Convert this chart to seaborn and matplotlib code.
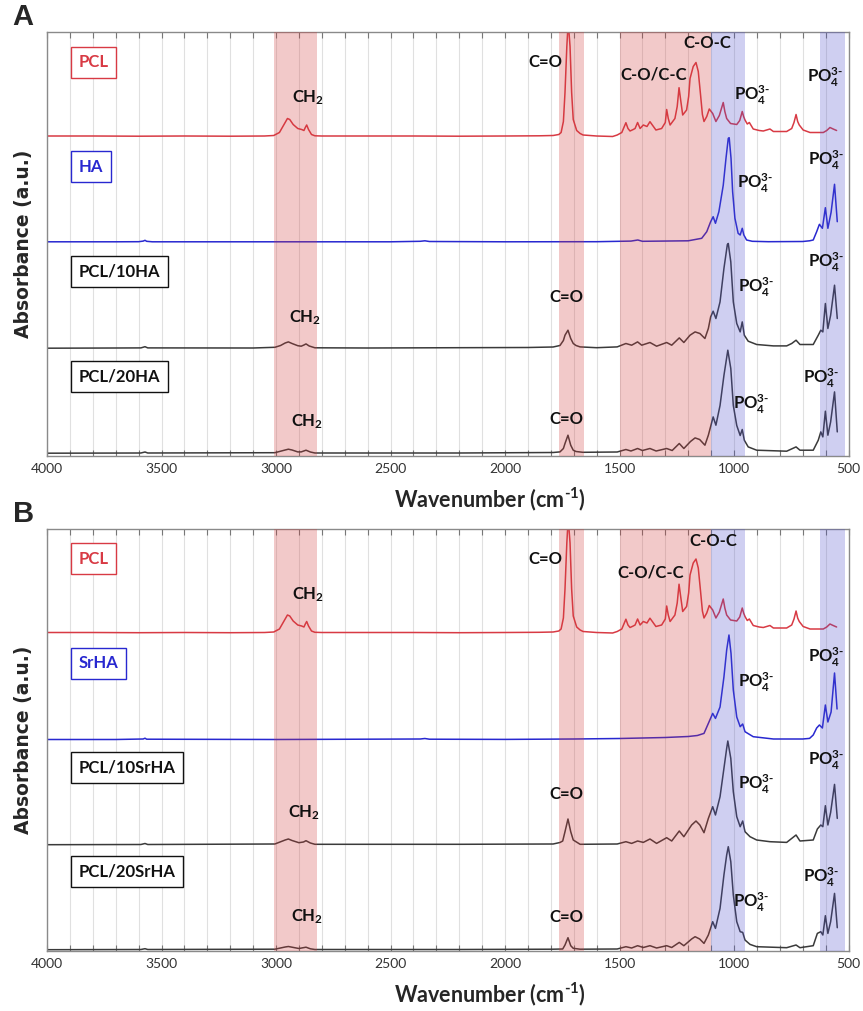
import numpy as np
import pandas as pd
import seaborn as sns
import matplotlib.pyplot as plt

# FTIR spectra: (wavenumber cm-1, height above the trace's own baseline, a.u.)
PCL = [(4000, 0.5), (3800, 0.5), (3600, 0.3), (3400, 0.5), (3200, 0.3), (3050, 0.5), (3010, 1),
       (2985, 4), (2965, 12), (2950, 18), (2940, 17), (2925, 12), (2905, 8), (2888, 7), (2878, 6),
       (2872, 9), (2866, 11.5), (2858, 7), (2845, 2), (2830, 0.7), (2800, 0.5), (2600, 0.5),
       (2400, 0.5), (2200, 0.3), (2000, 0.5), (1850, 0.7), (1790, 1), (1765, 2), (1755, 4),
       (1745, 15), (1738, 44), (1730, 90), (1724, 115), (1716, 90), (1709, 44), (1702, 17),
       (1687, 6), (1672, 3), (1659, 1.5), (1600, 0.5), (1530, 0), (1510, 1.5), (1490, 4),
       (1472, 13.8), (1463, 8), (1454, 5.5), (1440, 7), (1432, 8), (1421, 14), (1410, 8),
       (1396, 11.5), (1380, 10), (1367, 14.8), (1341, 6.5), (1316, 8), (1300, 14), (1294, 27),
       (1287, 18), (1279, 11.5), (1258, 18), (1248, 30), (1240, 48.8), (1232, 35), (1224, 21.5),
       (1207, 26.5), (1198, 40), (1192, 58), (1178, 70), (1166, 74), (1156, 65), (1146, 41.5),
       (1138, 22), (1131, 15), (1119, 20), (1108, 27.5), (1093, 23), (1079, 15), (1064, 21),
       (1047, 34), (1040, 25), (1032, 18), (1015, 13), (988, 12), (975, 16), (964, 25), (958, 20),
       (952, 16.5), (942, 12.5), (933, 14), (916, 7.5), (890, 6), (872, 5.5), (843, 7.5), (828, 5),
       (800, 5), (770, 5), (748, 8), (738, 14), (729, 22), (722, 15), (715, 11.5), (698, 6.5),
       (668, 4), (610, 4), (595, 6), (581, 9), (567, 7.5), (552, 6)]

HA = [(4000, 0.5), (3700, 0.5), (3600, 0.6), (3580, 1.2), (3572, 2), (3565, 1), (3540, 0.5),
      (3000, 0.5), (2500, 0.5), (2370, 1), (2350, 1.5), (2330, 0.8), (2000, 0.5), (1600, 0.6),
      (1450, 1.2), (1420, 2.3), (1400, 1), (1200, 1.5), (1141, 4), (1119, 10.6), (1102, 20.6),
      (1091, 25.6), (1081, 19), (1066, 30.6), (1047, 57), (1035, 84), (1025, 104), (1021, 104.6),
      (1013, 84), (1006, 50.6), (996, 24), (982, 9), (973, 7.3), (964, 14), (957, 7.3), (945, 2.3),
      (920, 1), (850, 0.6), (700, 0.8), (670, 1.5), (654, 2.3), (639, 10.6), (627, 18), (614, 14),
      (601, 34.6), (590, 14), (576, 30), (561, 58), (549, 20.6)]

PCL_10HA = [(4000, 0.3), (3700, 0.5), (3590, 0.6), (3572, 1.8), (3560, 0.6), (3100, 0.5),
            (3005, 1.2), (2980, 3), (2960, 5.5), (2946, 6.6), (2930, 5), (2905, 2.8), (2890, 2.3),
            (2878, 3.5), (2869, 4.6), (2855, 2.5), (2830, 0.7), (2600, 0.5), (2200, 0.8), (1900, 1),
            (1790, 1.5), (1760, 3), (1745, 8), (1738, 13.3), (1725, 18.3), (1713, 10), (1702, 5),
            (1690, 3), (1672, 1.6), (1600, 0.8), (1510, 1.6), (1472, 5), (1447, 3.3), (1421, 6.6),
            (1403, 3.3), (1367, 6), (1338, 2.3), (1294, 6), (1272, 3.3), (1239, 10.6), (1219, 6),
            (1192, 13.3), (1170, 16.6), (1149, 15), (1127, 10), (1112, 20), (1102, 31.6),
            (1091, 37.3), (1079, 30), (1061, 46.6), (1044, 80), (1029, 104), (1025, 105),
            (1014, 86.6), (1003, 46.6), (988, 25), (973, 16.6), (964, 26.6), (955, 13.3), (938, 7.3),
            (901, 4), (828, 2.6), (770, 2.6), (748, 5), (729, 8.3), (712, 4), (654, 4), (632, 13.3),
            (621, 18.3), (612, 16.6), (601, 45), (590, 20), (578, 33.3), (561, 63.3), (549, 30)]

PCL_20HA = [(4000, 0.3), (3590, 0.5), (3572, 1.5), (3560, 0.5), (3005, 0.8), (2960, 3.5),
            (2946, 4.3), (2930, 3.5), (2905, 1.6), (2890, 1.6), (2869, 3.3), (2850, 1.5), (2830, 0.5),
            (2200, 0.5), (1790, 1), (1760, 1.6), (1745, 5), (1738, 10), (1725, 18.3), (1713, 8.3),
            (1702, 3.3), (1690, 2), (1660, 1.2), (1510, 1.5), (1472, 4), (1450, 2.5), (1421, 5),
            (1400, 3), (1367, 5), (1340, 2.5), (1294, 5), (1270, 3), (1239, 10), (1219, 5),
            (1190, 12), (1170, 15.6), (1150, 14), (1127, 8.3), (1112, 18.3), (1091, 36.6),
            (1079, 28.3), (1061, 48), (1044, 78), (1027, 103.3), (1014, 85), (1003, 48), (988, 28),
            (973, 18), (964, 24), (955, 13.3), (938, 6.6), (901, 3.3), (770, 2.3), (729, 6.6),
            (712, 3.3), (654, 3.3), (632, 13.3), (621, 21.6), (612, 16.6), (601, 42.3), (590, 18.3),
            (578, 31.6), (561, 61.6), (549, 21.6)]

SRHA = [(4000, 0.5), (3700, 0.5), (3580, 1), (3572, 1.8), (3565, 0.8), (3000, 0.5), (2370, 1),
        (2350, 1.5), (2330, 0.8), (2000, 0.6), (1700, 1), (1500, 1.5), (1300, 2.5), (1200, 3.5),
        (1160, 4.5), (1131, 6.6), (1112, 16.6), (1093, 26.6), (1081, 21.6), (1061, 33), (1044, 63),
        (1032, 90), (1022, 105), (1013, 86.6), (1003, 50), (988, 23), (973, 13.3), (962, 16),
        (952, 8.3), (916, 3.3), (828, 1), (700, 1), (670, 1.6), (654, 5), (639, 12), (627, 15),
        (614, 12), (601, 35), (590, 18), (576, 28), (561, 67), (550, 31)]

PCL_10SRHA = [(4000, 0.3), (3590, 0.5), (3572, 1.5), (3560, 0.5), (3005, 1), (2960, 5), (2946, 6),
              (2930, 4.5), (2900, 2.3), (2880, 3), (2869, 4.3), (2850, 2), (2830, 0.7), (2200, 0.7),
              (1790, 1), (1760, 2.5), (1748, 4), (1738, 13.3), (1725, 26), (1713, 13.3), (1702, 5),
              (1672, 0.7), (1510, 1), (1472, 3.3), (1447, 1.6), (1421, 4), (1396, 2.6), (1367, 6),
              (1338, 1.6), (1294, 7.3), (1272, 4), (1239, 14), (1219, 8.3), (1185, 20), (1166, 24),
              (1149, 20), (1131, 12.3), (1112, 26.6), (1093, 38.3), (1081, 30), (1061, 48.3),
              (1044, 76.6), (1032, 96.6), (1027, 104), (1014, 86.6), (1003, 53.3), (988, 28.3),
              (973, 18.3), (962, 24), (952, 13.3), (930, 8.3), (901, 5), (843, 3.3), (770, 2.6),
              (729, 10), (712, 4), (654, 5), (636, 16), (621, 20), (612, 18.3), (601, 39.3),
              (590, 20), (578, 32.6), (561, 60.6), (549, 26.6)]

PCL_20SRHA = [(4000, 0.3), (3590, 0.5), (3572, 1.3), (3560, 0.5), (3005, 0.8), (2960, 3),
              (2946, 3.5), (2930, 2.8), (2900, 1.5), (2869, 2.8), (2850, 1.2), (2830, 0.5),
              (2200, 0.5), (1790, 0.8), (1748, 1), (1738, 5), (1725, 12.3), (1713, 4.3), (1702, 1.7),
              (1672, 0.8), (1510, 1), (1472, 3.3), (1447, 2), (1421, 4.3), (1396, 2.5), (1367, 4.3),
              (1338, 2), (1294, 4.3), (1272, 2.5), (1239, 7.6), (1219, 4.3), (1185, 11), (1170, 13.3),
              (1150, 11), (1131, 6.6), (1112, 15), (1093, 28.3), (1081, 21.6), (1061, 41.6),
              (1044, 75), (1032, 95), (1025, 103.3), (1014, 88.3), (1003, 55), (988, 28.3),
              (973, 18.3), (962, 17.6), (952, 10), (930, 5.6), (901, 3.3), (770, 2.3), (729, 5),
              (712, 2.3), (654, 4.3), (636, 16.6), (621, 18.3), (612, 15), (601, 34.3), (590, 16.6),
              (578, 28.3), (561, 56.6), (549, 22.3)]

NAMES_A = ["PCL", "HA", "PCL/10HA", "PCL/20HA"]
NAMES_B = ["PCL", "SrHA", "PCL/10SrHA", "PCL/20SrHA"]
# vertical stacking offsets (a.u.), top trace first
OFFSETS_A = [319.5, 213.7, 107.5, 2.5]
OFFSETS_B = [318, 211, 106, 1]

# highlighted bands (cm-1)
RED_BANDS = [(3010, 2820), (1765, 1655), (1500, 1100)]
BLUE_BANDS = [(1100, 950), (625, 515)]

RED = "#d83a44"
BLUE = "#2828d0"
DARK = "#3a3a3a"

sns.set_style("white")
plt.rcParams["font.family"] = ["Lato", "DejaVu Sans"]
plt.rcParams["mathtext.fontset"] = "custom"
plt.rcParams["mathtext.rm"] = "Lato:bold"
plt.rcParams["mathtext.it"] = "Lato:bold"
plt.rcParams["mathtext.bf"] = "Lato:bold"

W, H = 863, 1011
fig = plt.figure(figsize=(W / 100, H / 100), dpi=100)


def px_axes(left, top, right, bottom):
    return fig.add_axes([left / W, 1 - bottom / H, (right - left) / W, (bottom - top) / H])


def draw_panel(ax, spectra, names, offsets, colors, ytop, notes, letter):
    for spec, name, off, col in zip(spectra, names, offsets, colors):
        df = pd.DataFrame(spec, columns=["wn", "absorb"])
        df["y"] = df["absorb"] + off
        sns.lineplot(data=df, x="wn", y="y", ax=ax, color=col, lw=1.1,
                     estimator=None, sort=False, zorder=2)
    for a, b in RED_BANDS:
        ax.axvspan(b, a, color="#d23a3a", alpha=0.27, lw=0, zorder=3)
    for a, b in BLUE_BANDS:
        ax.axvspan(b, a, color="#5050cc", alpha=0.27, lw=0, zorder=3)

    ax.set_xlim(4000, 500)
    ax.set_ylim(0, ytop)
    ax.set_xticks(np.arange(500, 4001, 500))
    ax.set_xticklabels([str(v) for v in range(500, 4001, 500)], fontsize=10, color="#333333")
    ax.set_xticks(np.arange(500, 4001, 100), minor=True)
    ax.tick_params(axis="x", which="both", direction="in", top=True, bottom=True,
                   length=4, width=0.8, color="#777777", pad=5)
    ax.set_yticks([])
    ax.grid(True, which="minor", axis="x", color="#e0e0e0", lw=0.8, zorder=0)
    ax.grid(True, which="major", axis="x", color="#e0e0e0", lw=0.8, zorder=0)
    ax.set_axisbelow(True)
    for s in ax.spines.values():
        s.set_color("#8a8a8a")
        s.set_linewidth(1.0)
    ax.set_xlabel(r"Wavenumber (cm$^{\text{-}1}$)", fontsize=15.5, fontweight="bold", labelpad=4)
    ax.xaxis.set_label_coords(0.553, -0.07)
    ax.set_ylabel("Absorbance (a.u.)", fontsize=13.5, fontweight="bold",
                  family="DejaVu Sans", labelpad=10)

    # sample label boxes
    box_y = [0.929, 0.682, 0.436, 0.188]
    for name, col, yy in zip(names, colors, box_y):
        tc = col if col != DARK else "#111111"
        ax.text(0.0395, yy, name, transform=ax.transAxes, ha="left", va="center",
                fontsize=12, fontweight="bold", color=tc, zorder=6,
                bbox=dict(boxstyle="square,pad=0.45", fc="white", ec=tc, lw=1.0))

    for txt, x, y, ha in notes:
        ax.text(x, y, txt, ha=ha, va="center", fontsize=12, fontweight="bold",
                color="#111111", zorder=5)

    ax.text(-0.043, 1.035, letter, transform=ax.transAxes, ha="left", va="center",
            fontsize=21, fontweight="bold", family="Liberation Sans")


PO4 = r"PO$_4^{3\text{-}}$"
CH2 = "CH$_2$"

notes_a = [(CH2, 2860, 358, "center"), ("C=O", 1825, 394, "center"),
           ("C-O/C-C", 1349, 381, "center"), ("C-O-C", 1118, 413, "center"),
           (PO4, 1000, 361, "left"), (PO4, 683, 379, "left"),
           (PO4, 986, 273, "left"), (PO4, 678, 296, "left"),
           (CH2, 2873, 138, "center"), ("C=O", 1732, 159, "center"),
           (PO4, 981, 169, "left"), (PO4, 675, 194, "left"),
           (CH2, 2866, 34, "center"), ("C=O", 1731, 37, "center"),
           (PO4, 1003, 52, "left"), (PO4, 697, 78, "left")]

notes_b = [(CH2, 2860, 356, "center"), ("C=O", 1825, 392, "center"),
           ("C-O/C-C", 1362, 378, "center"), ("C-O-C", 1090, 410, "center"),
           (PO4, 981, 269, "left"), (PO4, 675, 294, "left"),
           (CH2, 2878, 138, "center"), ("C=O", 1734, 157, "center"),
           (PO4, 981, 167, "left"), (PO4, 675, 191, "left"),
           (CH2, 2866, 34, "center"), ("C=O", 1731, 34, "center"),
           (PO4, 1003, 49, "left"), (PO4, 697, 74, "left")]

colors = [RED, BLUE, DARK, DARK]

ax_a = px_axes(47, 32, 848.5, 456)
draw_panel(ax_a, [PCL, HA, PCL_10HA, PCL_20HA], NAMES_A, OFFSETS_A, colors, 424, notes_a, "A")

ax_b = px_axes(47, 529, 848.5, 951)
draw_panel(ax_b, [PCL, SRHA, PCL_10SRHA, PCL_20SRHA], NAMES_B, OFFSETS_B, colors, 422, notes_b, "B")

fig.savefig("out.png", dpi=100)
